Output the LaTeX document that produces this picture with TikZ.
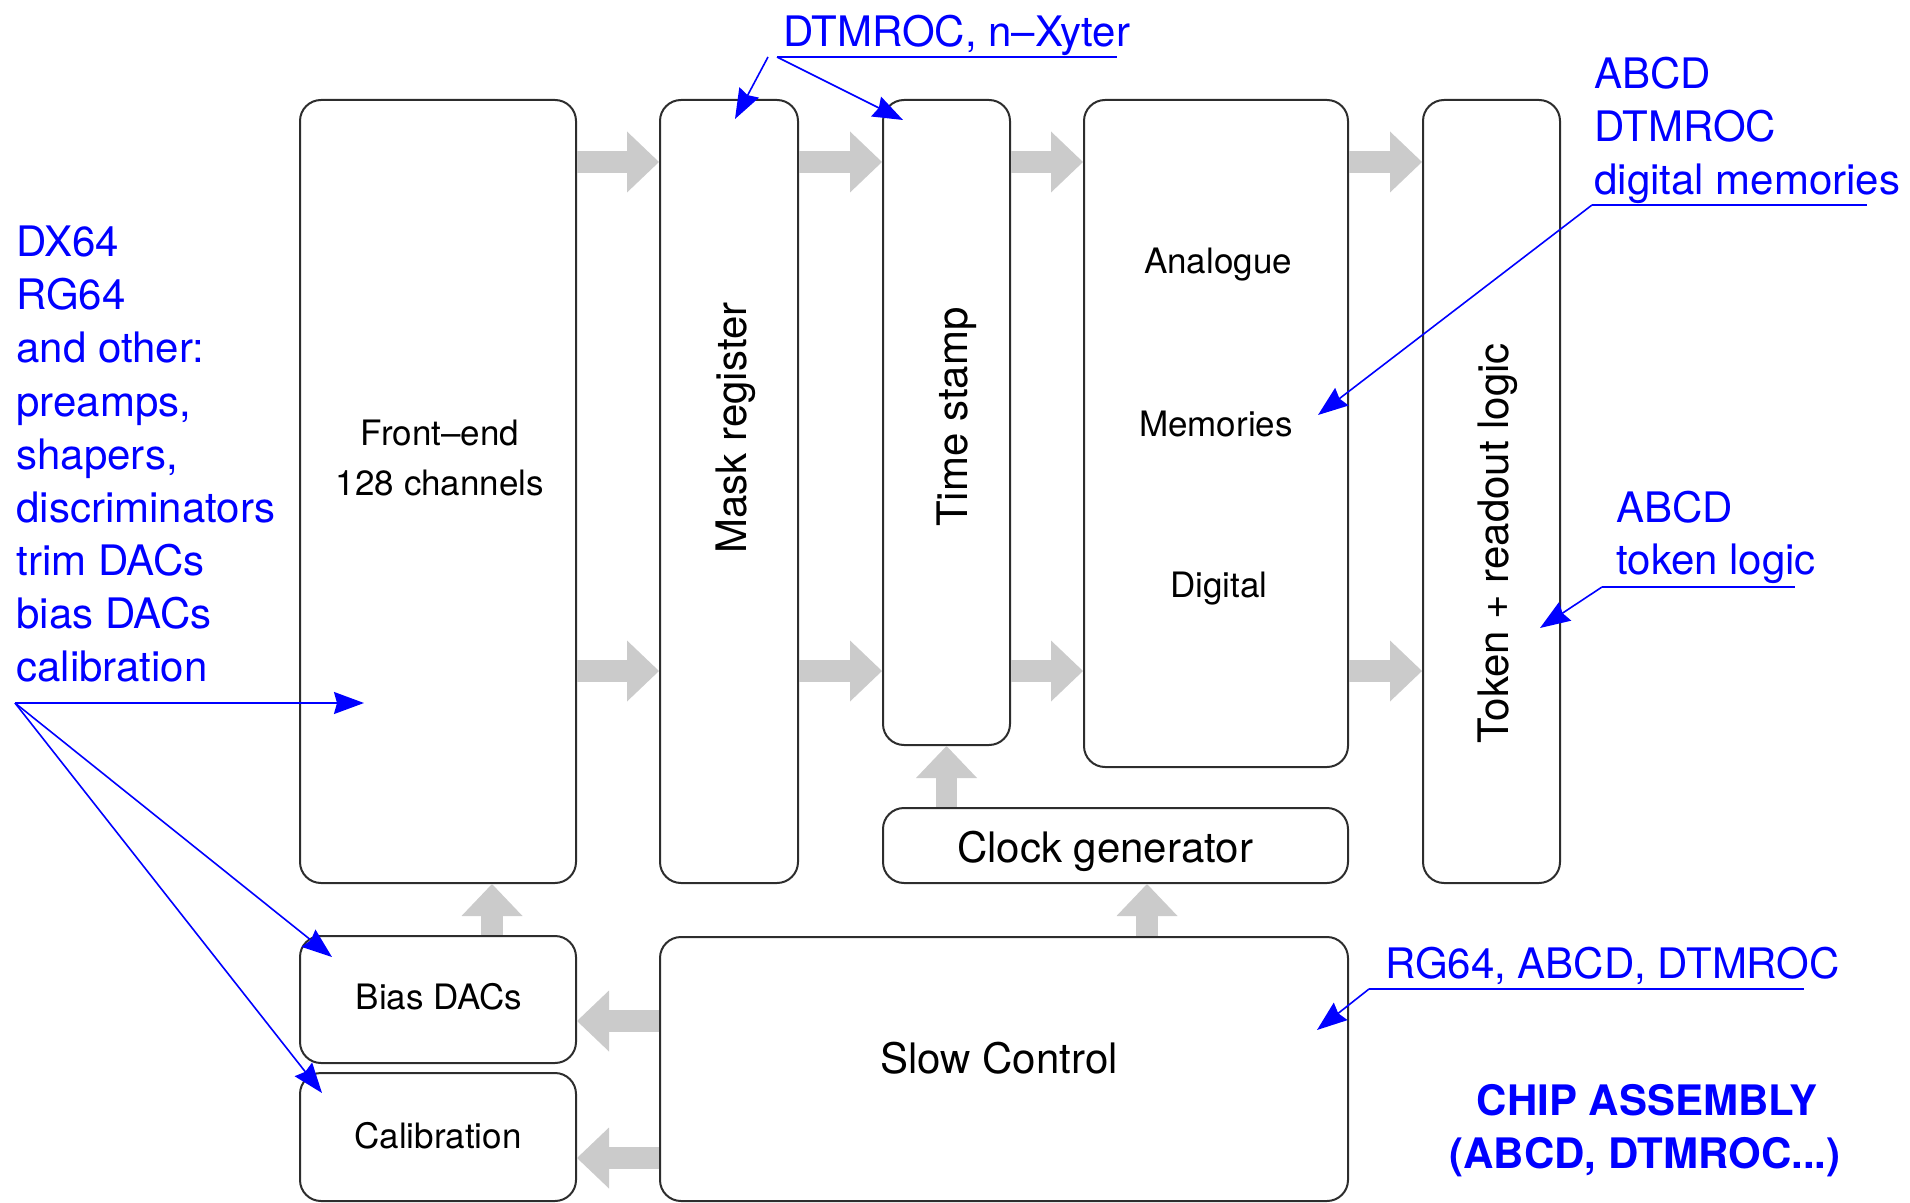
\documentclass[tikz,border=0pt]{standalone}
\usepackage{fontspec}
\setmainfont{TeX Gyre Heros}
\usetikzlibrary{arrows.meta,fit}
\definecolor{agray}{RGB}{203,203,203}
\definecolor{bdr}{RGB}{45,45,45}
\definecolor{bblue}{RGB}{0,0,255}
\begin{document}
\begin{tikzpicture}[x=0.5pt,y=-0.5pt,
  box/.style={draw=bdr, line width=1pt, rounded corners=10.5pt, inner sep=0pt},
  garrow/.style={draw=agray, line width=10.75pt, -{Triangle[length=16pt,width=30.5pt,line width=0pt]}},
  btxt/.style={text=bblue, font=\fontsize{21}{26}\selectfont, inner sep=0pt, anchor=base west},
  bhead/.style={text=bblue, font=\bfseries\fontsize{21}{26}\selectfont, inner sep=0pt, anchor=base},
  ktxt/.style={text=black, font=\fontsize{17.5}{21}\selectfont, inner sep=0pt, anchor=base},
  ltxt/.style={text=black, font=\fontsize{21}{25}\selectfont, inner sep=0pt, anchor=base},
  bline/.style={draw=bblue, line width=0.8pt},
  barrow/.style={bline, -{Stealth[length=15pt,width=11pt,inset=1.5pt]}}]
\useasboundingbox (0,0) rectangle (1910,1203);

% boxes
\node[box, fit={(300,100)(576,883)}] (fe) {};
\node[box, fit={(660,100)(798,883)}] (mask) {};
\node[box, fit={(883,100)(1010,745)}] (ts) {};
\node[box, fit={(1084,100)(1348,767)}] (mem) {};
\node[box, fit={(1423,100)(1560,883)}] (tok) {};
\node[box, fit={(883,808)(1348,883)}] (clk) {};
\node[box, fit={(300,936)(576,1063)}] (bias) {};
\node[box, fit={(300,1073)(576,1201)}] (cal) {};
\node[box, fit={(660,937)(1348,1201)}] (sc) {};

% gray data-flow arrows
\coordinate (r1) at (0,162);
\coordinate (r2) at (0,671);
\foreach \a/\b in {fe/mask, mask/ts, ts/mem, mem/tok} {
  \draw[garrow] (\a.east |- r1) -- (\b.west |- r1);
  \draw[garrow] (\a.east |- r2) -- (\b.west |- r2);
}
\coordinate (c1) at (492,0);
\draw[garrow] (bias.north -| c1) -- (fe.south -| c1);
\coordinate (c2) at (1147,0);
\draw[garrow] (sc.north -| c2) -- (clk.south -| c2);
\coordinate (c3) at (946.5,0);
\draw[garrow] (clk.north -| c3) -- (ts.south -| c3);
\coordinate (r3) at (0,1021);
\draw[garrow] (sc.west |- r3) -- (bias.east |- r3);
\coordinate (r4) at (0,1158);
\draw[garrow] (sc.west |- r4) -- (cal.east |- r4);

% box texts
\node[ktxt] (tfe1) at (440,445) {Front–end};
\node[ktxt] (tfe2) at (440,495) {128 channels};
\node[ltxt, rotate=90] (tmask) at (746,428) {Mask register};
\node[ltxt, rotate=90] (tts) at (967,417) {Time stamp};
\node[ktxt] (tan) at (1218,274) {Analogue};
\node[ktxt] (tme) at (1216,437) {Memories};
\node[ktxt] (tdi) at (1219,597) {Digital};
\node[ltxt, rotate=90] (ttok) at (1508,543) {Token + readout logic};
\node[ltxt] (tclk) at (1105,862) {Clock generator};
\node[ltxt] (tsc) at (999,1073) {Slow Control};
\node[ktxt] (tbias) at (439,1009) {Bias DACs};
\node[ktxt] (tcal) at (438,1148) {Calibration};

% top annotation
\node[btxt] (ntop) at (783,47) {DTMROC, n–Xyter};
\coordinate (u1a) at (777,57);
\coordinate (u1b) at (1117,57);
\coordinate (u1c) at (768,57);
\coordinate (pmask) at (735,119);
\coordinate (pts) at (903,120);
\draw[bline] (u1a) -- (u1b);
\draw[barrow] (u1c) -- (pmask);
\draw[barrow] (u1a) -- (pts);

% top-right annotation
\node[btxt] (ntr1) at (1594,89) {ABCD};
\node[btxt] (ntr2) at (1594,142) {DTMROC};
\node[btxt] (ntr3) at (1594,195) {digital memories};
\coordinate (u2a) at (1592,205);
\coordinate (u2b) at (1867,205);
\coordinate (pmem) at (1318,415);
\draw[bline] (u2a) -- (u2b);
\draw[barrow] (u2a) -- (pmem);

% token logic annotation
\node[btxt] (ntk1) at (1616,522) {ABCD};
\node[btxt] (ntk2) at (1616,574) {token logic};
\coordinate (u3a) at (1602,587);
\coordinate (u3b) at (1795,587);
\coordinate (ptok) at (1540,628);
\draw[bline] (u3a) -- (u3b);
\draw[barrow] (u3a) -- (ptok);

% slow control annotation
\node[btxt] (nsc) at (1385,978) {RG64, ABCD, DTMROC};
\coordinate (u4a) at (1369,989);
\coordinate (u4b) at (1804,989);
\coordinate (psc) at (1317,1030);
\draw[bline] (u4a) -- (u4b);
\draw[barrow] (u4a) -- (psc);

% left annotation
\node[btxt] (nl1) at (16,257) {DX64};
\node[btxt] (nl2) at (16,310) {RG64};
\node[btxt] (nl3) at (16,363) {and other:};
\node[btxt] (nl4) at (16,416) {preamps,};
\node[btxt] (nl5) at (16,469) {shapers,};
\node[btxt] (nl6) at (16,522) {discriminators};
\node[btxt] (nl7) at (16,575) {trim DACs};
\node[btxt] (nl8) at (16,628) {bias DACs};
\node[btxt] (nl9) at (16,681) {calibration};
\coordinate (lo) at (15,703);
\coordinate (pfe) at (364,703);
\coordinate (pbias) at (332,957);
\coordinate (pcal) at (322,1093);
\draw[barrow] (lo) -- (pfe);
\draw[barrow] (lo) -- (pbias);
\draw[barrow] (lo) -- (pcal);

% chip assembly
\node[bhead] (nchip1) at (1647,1115) {CHIP ASSEMBLY};
\node[bhead] (nchip2) at (1645,1168) {(ABCD, DTMROC...)};
\end{tikzpicture}
\end{document}
